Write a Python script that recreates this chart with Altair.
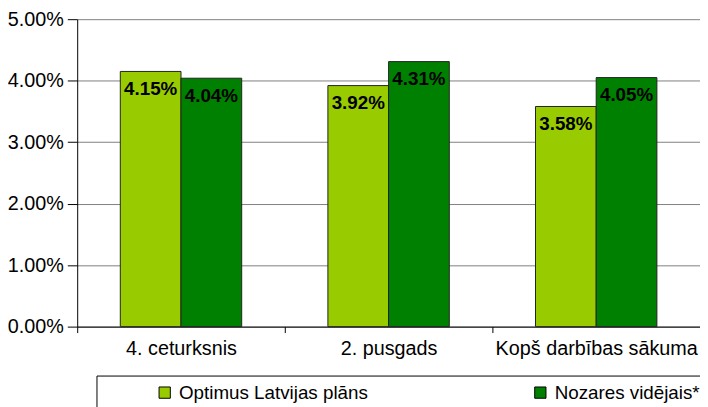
import altair as alt
import pandas as pd

categories = ["4. ceturksnis", "2. pusgads", "Kopš darbības sākuma"]
series_names = ["Optimus Latvijas plāns", "Nozares vidējais*"]
optimus = [0.0415, 0.0392, 0.0358]
nozares = [0.0404, 0.0431, 0.0405]
y_ticks = [0.0, 0.01, 0.02, 0.03, 0.04, 0.05]
colors = ["#99CC00", "#008000"]

rows = []
for i, c in enumerate(categories):
    rows.append({"cat": c, "series": series_names[0], "value": optimus[i]})
    rows.append({"cat": c, "series": series_names[1], "value": nozares[i]})
df = pd.DataFrame(rows)

FONT = "Liberation Sans"

x_enc = alt.X("cat:N", sort=categories, title=None,
              scale=alt.Scale(paddingInner=0, paddingOuter=0),
              axis=alt.Axis(labelAngle=0, labelFontSize=20, labelFont=FONT,
                            labelColor="black", labelPadding=6, labelLimit=400,
                            domainColor="black", tickColor="black",
                            tickSize=6, tickBand="extent", grid=False))
xoff = alt.XOffset("series:N", sort=series_names,
                   scale=alt.Scale(paddingInner=0, paddingOuter=0.71))
y_enc = alt.Y("value:Q", title=None,
              scale=alt.Scale(domain=[0, 0.05], nice=False),
              axis=alt.Axis(values=y_ticks, format=".2%", labelFontSize=20,
                            labelFont=FONT, labelColor="black", labelPadding=4,
                            domainColor="black", tickColor="black", tickSize=10,
                            gridColor="#808080", gridWidth=1))

bars = alt.Chart(df).mark_bar(stroke="#222222", strokeWidth=1).encode(
    x=x_enc, xOffset=xoff, y=y_enc,
    color=alt.Color("series:N", sort=series_names,
                    scale=alt.Scale(domain=series_names, range=colors),
                    legend=alt.Legend(orient="none", legendX=79, legendY=368,
                                      direction="horizontal", columns=2,
                                      title=None, symbolType="square",
                                      symbolSize=130, symbolStrokeColor="black",
                                      symbolStrokeWidth=1, labelFontSize=19,
                                      labelFont=FONT, labelColor="black",
                                      labelLimit=400, columnPadding=164,
                                      symbolOffset=0, labelOffset=5)),
)

labels = alt.Chart(df).mark_text(baseline="top", dy=9, fontSize=19,
                                 fontWeight="bold", font=FONT,
                                 color="black").encode(
    x=alt.X("cat:N", sort=categories), xOffset=xoff,
    y=alt.Y("value:Q"), text=alt.Text("value:Q", format=".2%"),
)

box = alt.Chart(pd.DataFrame({"k": [0]})).mark_rect(
    fill="white", fillOpacity=0, stroke="black", strokeWidth=1).encode(
    x=alt.value(20), x2=alt.value(640), y=alt.value(361), y2=alt.value(410))

chart = alt.layer(bars, labels, box).properties(
    width=630, height=311,
    autosize=alt.AutoSizeParams(type="none"),
    padding={"left": 70, "top": 9, "right": 0, "bottom": 80},
).configure_view(stroke=None).configure_axis(domainWidth=1, tickWidth=1)

chart.save("out.html", embed_options={"renderer": "svg", "actions": False})
